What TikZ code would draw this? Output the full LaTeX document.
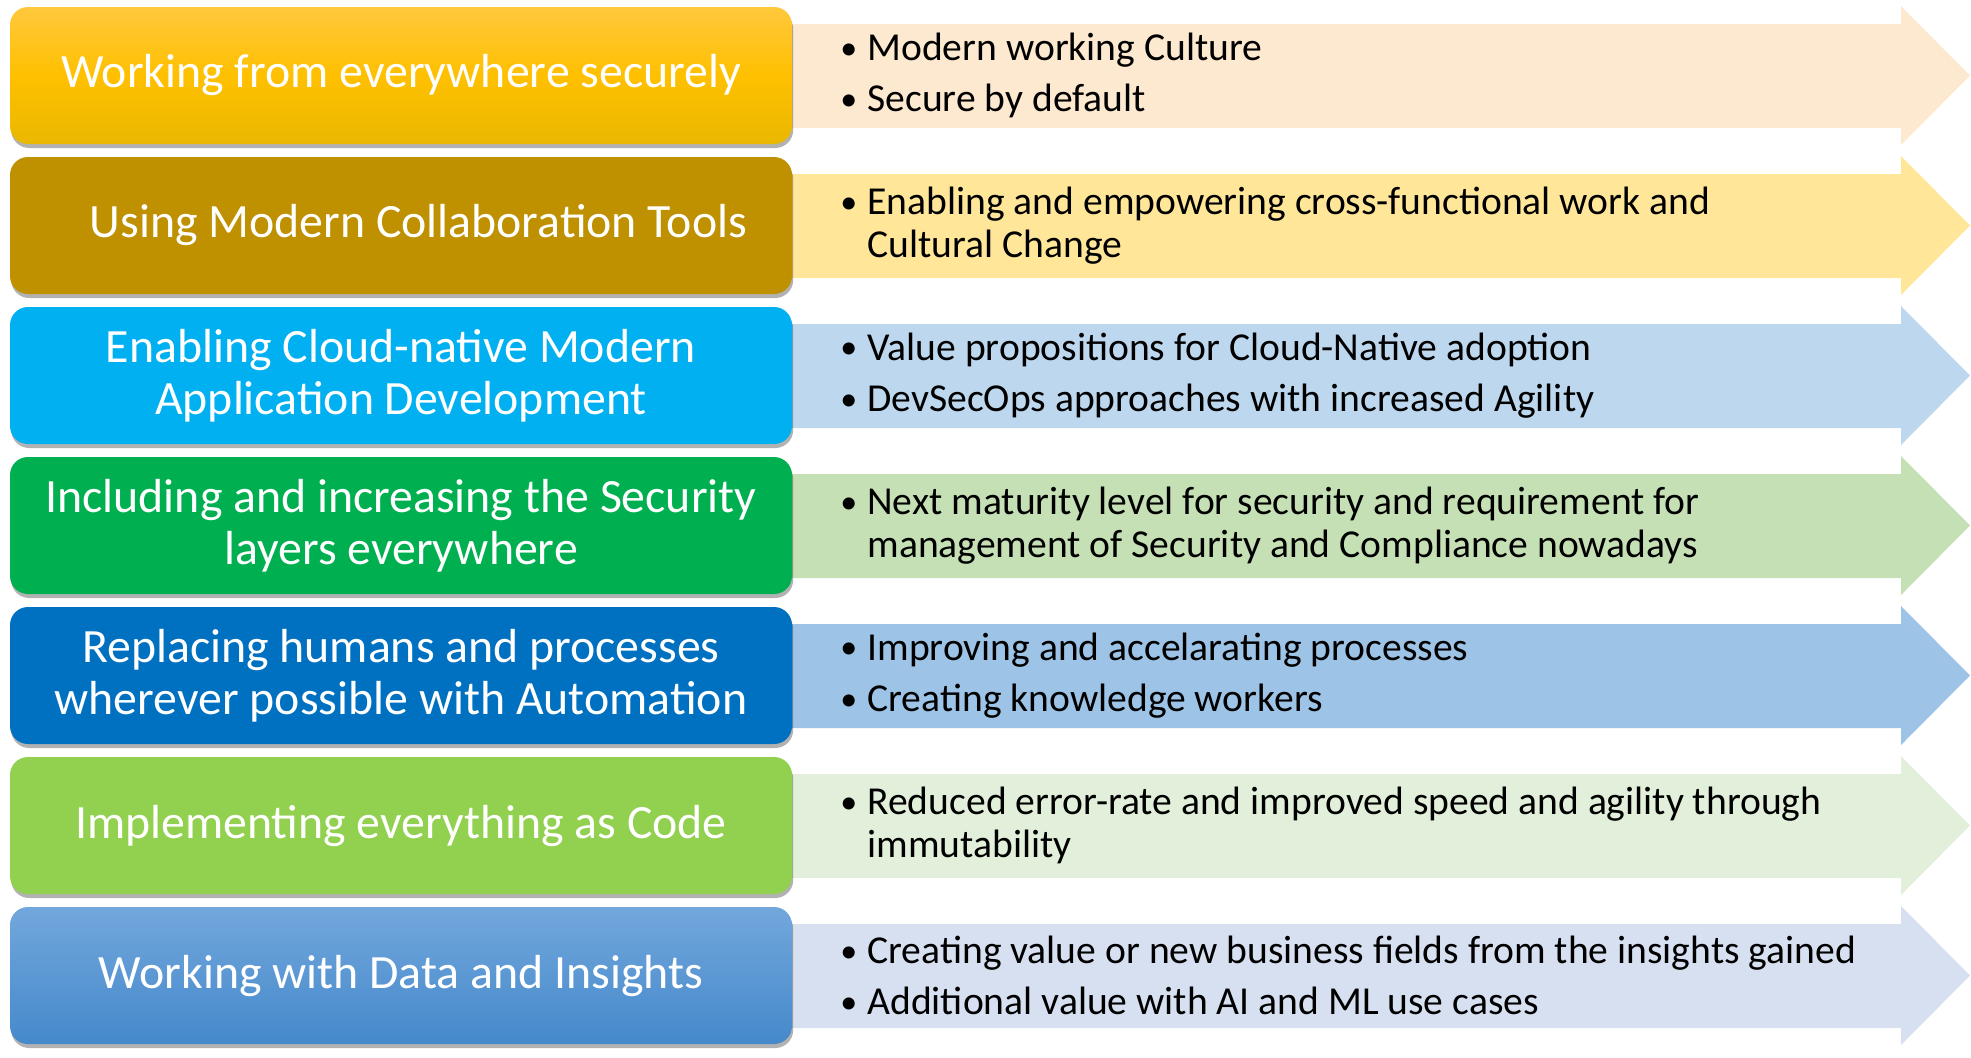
\documentclass[tikz,border=0pt]{standalone}
\usepackage{fontspec}
\setmainfont{Carlito}
\usetikzlibrary{shadows}
\definecolor{bA}{HTML}{FFC000}
\definecolor{bAt}{HTML}{FFC83D}
\definecolor{bAb}{HTML}{E9B800}
\definecolor{bB}{HTML}{BF9000}
\definecolor{bC}{HTML}{00B0F0}
\definecolor{bD}{HTML}{00B050}
\definecolor{bE}{HTML}{0070C0}
\definecolor{bF}{HTML}{92D050}
\definecolor{bGt}{HTML}{72A7DC}
\definecolor{bGb}{HTML}{4589CB}
\definecolor{aA}{HTML}{FDE9CF}
\definecolor{aB}{HTML}{FFE699}
\definecolor{aC}{HTML}{BDD7EE}
\definecolor{aD}{HTML}{C6E0B5}
\definecolor{aE}{HTML}{9DC3E6}
\definecolor{aF}{HTML}{E2EFDA}
\definecolor{aG}{HTML}{D7E0F1}
\newcommand{\bul}{\makebox[11pt][l]{\hspace*{-2.5pt}\raisebox{0.6pt}{\fontsize{17}{17}\selectfont •}}}
\newcommand{\ind}{\hspace*{11pt}}
\tikzset{
  rowbox/.style={rounded corners=9pt, minimum width=391pt, minimum height=68.5pt,
    inner sep=0pt, text=white, align=center,
    font=\fontsize{23.9}{25.8}\selectfont,
    drop shadow={shadow xshift=0.6pt, shadow yshift=-2pt, opacity=0.3, fill=black}},
  rowtext/.style={anchor=west, inner sep=0pt, align=left, text=black,
    font=\fontsize{19.8}{21.4}\selectfont}
}
\begin{document}
\begin{tikzpicture}[x=0.5pt,y=-0.5pt]
\useasboundingbox (0,0) rectangle (1971,1057);
% arrows
\foreach \c [count=\i from 0] in {aA,aB,aC,aD,aE,aF,aG}{
  \pgfmathsetmacro{\o}{150*\i}
  \fill[\c] (780,24+\o) -- (1901,24+\o) -- (1901,6+\o) -- (1970,75.5+\o)
        -- (1901,145+\o) -- (1901,128+\o) -- (780,128+\o) -- cycle;
}
% boxes
\node[rowbox, top color=bAt, bottom color=bAb, middle color=bA] (b1) at (401,75.5) {Working from everywhere securely};
\node[rowbox, fill=bB] (b2) at (401,225.5) {\hspace*{17.5pt}Using Modern Collaboration Tools};
\node[rowbox, fill=bC] (b3) at (401,375.5) {Enabling Cloud-native Modern\\Application Development};
\node[rowbox, fill=bD] (b4) at (401,525.5) {Including and increasing the Security\\layers everywhere};
\node[rowbox, fill=bE] (b5) at (401,675.5) {Replacing humans and processes\\wherever possible with Automation};
\node[rowbox, fill=bF] (b6) at (401,825.5) {Implementing everything as Code};
\node[rowbox, top color=bGt, bottom color=bGb] (b7) at (401,975.5) {Working with Data and Insights};
% texts
\node[rowtext] (t1) at (845,75.5) {\bul Modern working Culture\\[4.4pt]\bul Secure by default};
\node[rowtext] (t2) at (845,225.5) {\bul Enabling and empowering cross-functional work and\\\ind Cultural Change};
\node[rowtext] (t3) at (845,375.5) {\bul Value propositions for Cloud-Native adoption\\[4.4pt]\bul DevSecOps approaches with increased Agility};
\node[rowtext] (t4) at (845,525.5) {\bul Next maturity level for security and requirement for\\\ind management of Security and Compliance nowadays};
\node[rowtext] (t5) at (845,675.5) {\bul Improving and accelarating processes\\[4.4pt]\bul Creating knowledge workers};
\node[rowtext] (t6) at (845,825.5) {\bul Reduced error-rate and improved speed and agility through\\\ind immutability};
\node[rowtext] (t7) at (845,975.5) {\bul Creating value or new business fields from the insights gained\\[4.4pt]\bul Additional value with AI and ML use cases};
\end{tikzpicture}
\end{document}
